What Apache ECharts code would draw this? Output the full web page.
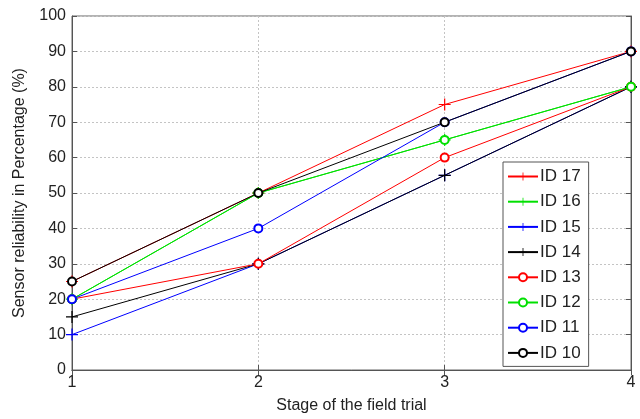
<!DOCTYPE html>
<html>
<head>
<meta charset="utf-8">
<script src="https://cdn.jsdelivr.net/npm/echarts@6/dist/echarts.min.js"></script>
<style>
  html, body { margin: 0; padding: 0; background: #fff; }
  #chart { width: 640px; height: 419px; }
</style>
</head>
<body>
<div id="chart"></div>
<script>
// stages on the x axis
var stages = [1, 2, 3, 4];
var yTicks = [0, 10, 20, 30, 40, 50, 60, 70, 80, 90, 100];

// sensor reliability (%) per stage
var id17 = [25, 50, 75, 90];
var id16 = [20, 50, 65, 80];
var id15 = [10, 30, 55, 80];
var id14 = [15, 30, 55, 80];
var id13 = [20, 30, 60, 80];
var id12 = [20, 50, 65, 80];
var id11 = [20, 40, 70, 90];
var id10 = [25, 50, 70, 90];

var plus = 'path://M4.5,0H5.5V4.5H10V5.5H5.5V10H4.5V5.5H0V4.5H4.5Z';

var lines = [
    { name: 'ID 17', data: id17, color: '#ff0000', mark: plus },
    { name: 'ID 16', data: id16, color: '#00e000', mark: plus },
    { name: 'ID 15', data: id15, color: '#0000ff', mark: plus },
    { name: 'ID 14', data: id14, color: '#000000', mark: plus },
    { name: 'ID 13', data: id13, color: '#ff0000', mark: 'emptyCircle' },
    { name: 'ID 12', data: id12, color: '#00e000', mark: 'emptyCircle' },
    { name: 'ID 11', data: id11, color: '#0000ff', mark: 'emptyCircle' },
    { name: 'ID 10', data: id10, color: '#000000', mark: 'emptyCircle' }
];

var font = 'Liberation Sans, Arial, sans-serif';
var chart = echarts.init(document.getElementById('chart'));

var series = lines.map(function (s) {
    return {
        name: s.name,
        type: 'line',
        xAxisIndex: 0,
        yAxisIndex: 0,
        data: s.data.map(function (v, i) { return [stages[i], v]; }),
        symbol: s.mark,
        symbolSize: s.mark === plus ? 12 : 8,
        showAllSymbol: true,
        color: s.color,
        lineStyle: { color: s.color, width: 1 },
        itemStyle: { color: s.color, borderWidth: 1 },
        emphasis: { disabled: true },
        animation: false
    };
});

var option = {
    backgroundColor: '#fff',
    grid: {
        left: 72,
        right: 9,
        top: 16,
        bottom: 45,
        show: true,
        borderColor: '#666',
        borderWidth: 1
    },
    legend: {
        orient: 'vertical',
        left: 503,
        top: 162,
        itemWidth: 30,
        itemHeight: 10,
        itemGap: 8.2,
        padding: [6, 8, 5, 4],
        backgroundColor: '#fff',
        borderColor: '#555',
        borderWidth: 1,
        textStyle: { fontFamily: font, fontSize: 17, color: '#222', padding: [0, 0, 0, -3] },
        data: lines.map(function (s) { return s.name; })
    },
    xAxis: [{
        type: 'value',
        min: 1,
        max: 4,
        interval: 1,
        name: 'Stage of the field trial',
        nameLocation: 'middle',
        nameGap: 28,
        nameTextStyle: { fontFamily: font, fontSize: 16, color: '#222' },
        axisLine: { lineStyle: { color: '#555' } },
        axisTick: { inside: true, length: 5, lineStyle: { color: '#555' } },
        axisLabel: { fontFamily: font, fontSize: 16, color: '#222', margin: 5 },
        splitLine: { show: true, lineStyle: { color: '#c4c4c4', type: [2, 2] } }
    }, {
        type: 'value',
        position: 'top',
        min: 1,
        max: 4,
        interval: 1,
        axisLine: { show: true, lineStyle: { color: '#555' } },
        axisTick: { show: true, inside: true, length: 5, lineStyle: { color: '#555' } },
        axisLabel: { show: false },
        splitLine: { show: false }
    }],
    yAxis: [{
        type: 'value',
        min: 0,
        max: 100,
        interval: 10,
        name: 'Sensor reliability in Percentage (%)',
        nameLocation: 'middle',
        nameGap: 44,
        nameTextStyle: { fontFamily: font, fontSize: 16, color: '#222' },
        axisLine: { show: true, lineStyle: { color: '#555' } },
        axisTick: { show: true, inside: true, length: 5, lineStyle: { color: '#555' } },
        axisLabel: {
            fontFamily: font, fontSize: 16, color: '#222', margin: 6,
            formatter: function (v) { return yTicks.indexOf(v) >= 0 ? String(v) : ''; }
        },
        splitLine: { show: true, lineStyle: { color: '#c4c4c4', type: [2, 2] } }
    }, {
        type: 'value',
        position: 'right',
        min: 0,
        max: 100,
        interval: 10,
        axisLine: { show: true, lineStyle: { color: '#555' } },
        axisTick: { show: true, inside: true, length: 5, lineStyle: { color: '#555' } },
        axisLabel: { show: false },
        splitLine: { show: false }
    }],
    series: series
};

chart.setOption(option);
</script>
</body>
</html>
